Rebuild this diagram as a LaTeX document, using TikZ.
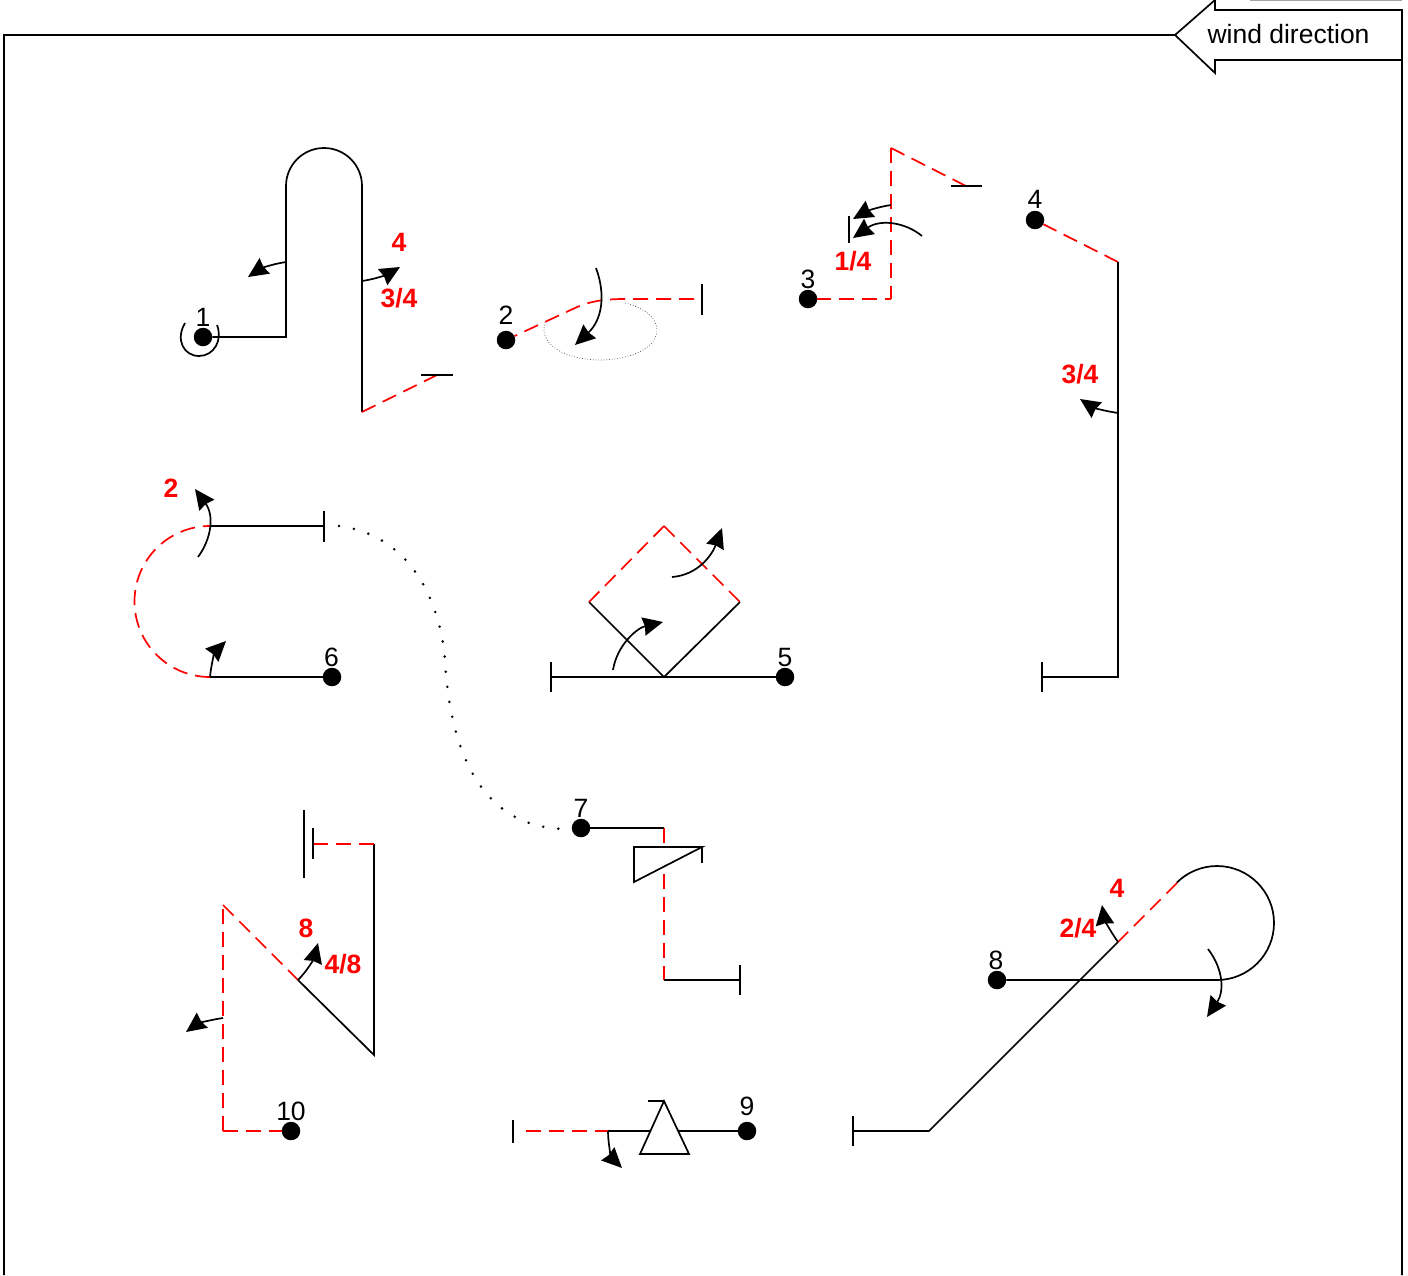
\documentclass[tikz,border=0pt]{standalone}
\usepackage{fontspec}
\setmainfont{Liberation Sans}
\usetikzlibrary{arrows.meta}
\tikzset{
  ln/.style={draw=black,line width=1.7pt,line join=miter},
  rd/.style={draw=red,line width=1.7pt,dash pattern=on 15pt off 8pt},
  arw/.style={draw=black,line width=1.7pt,-{Stealth[inset=1.5pt,length=20pt,width=18.5pt]}},
  dot/.style={circle,fill=black,inner sep=0pt,minimum size=18.5pt},
  num/.style={font=\fontsize{26.5pt}{28pt}\selectfont,text=black,inner sep=0pt},
  lab/.style={font=\fontsize{26.5pt}{28pt}\selectfont\bfseries,text=red,inner sep=0pt}
}
\begin{document}
\begin{tikzpicture}[x=1pt,y=-1pt]
\useasboundingbox (0,0) rectangle (1408,1275);
% frame + wind arrow
\draw[ln] (4,1275) -- (4,35) -- (1175,35) -- (1215,0) -- (1215,10) -- (1402,10) -- (1402,1275);
\draw[ln] (1402,60) -- (1215,60) -- (1215,73) -- (1175,35);
\draw[draw=black!35,line width=1.5pt] (1250,0.5) -- (1402,0.5);
\node[num] (wind) at (1288.5,34) {wind direction};
% dots
\node[dot] (d1) at (203,337) {};
\node[dot] (d2) at (506,340) {};
\node[dot] (d3) at (808,299) {};
\node[dot] (d4) at (1035,220) {};
\node[dot] (d5) at (785,677) {};
\node[dot] (d6) at (332,677) {};
\node[dot] (d7) at (581,828) {};
\node[dot] (d8) at (997,980) {};
\node[dot] (d9) at (747,1131) {};
\node[dot] (d10) at (291,1131) {};
\node[num] (n1) at (203,317) {1};
\node[num] (n2) at (506,315) {2};
\node[num] (n3) at (808,279) {3};
\node[num] (n4) at (1035,199.5) {4};
\node[num] (n5) at (785,657.5) {5};
\node[num] (n6) at (331.5,657.5) {6};
\node[num] (n7) at (581,808) {7};
\node[num] (n8) at (996,960) {8};
\node[num] (n9) at (747,1106) {9};
\node[num] (n10) at (291,1111) {10};
% 1
\draw[ln] (185,323) .. controls (175,340) and (184,356) .. (199,356) .. controls (214,356) and (223,340) .. (217,325);
\draw[ln] (d1) -- (286,337) -- (286,186) arc[start angle=180,end angle=360,radius=38] -- (362,412);
\draw[rd] (362,412) -- (437,375);
\draw[ln] (421,375) -- (453,375);
\draw[arw] (286,262) .. controls (272,264) and (260,269) .. (248,277);
\draw[arw] (362,281) .. controls (376,279) and (388,274) .. (400,267);
\node[lab] (l1) at (399,242) {4};
\node[lab] (l2) at (399,298) {3/4};
% 2
\draw[draw=black!70,line width=0.7pt,dotted] (625,303) .. controls (645,308) and (657,318) .. (657,330) .. controls (657,347) and (632,360) .. (600,360) .. controls (569,360) and (544,347) .. (544,330) -- (545,322);
\draw[rd,dash phase=15pt] (702,299) -- (625,299) .. controls (605,299) and (590,301) .. (575,308) -- (d2);
\draw[ln] (702,284) -- (702,315);
\draw[arw] (596,268) .. controls (606,295) and (602,320) .. (575,345);
% 3
\draw[rd] (891,148) -- (891,299);
\draw[rd,dash phase=9pt] (891,299) -- (d3);
\draw[rd] (891,148) -- (966,186);
\draw[ln] (951,186) -- (982,186);
\draw[ln] (849,216) -- (849,243);
\draw[arw] (891,205) .. controls (877,207) and (865,212) .. (853,219);
\draw[arw] (922,236) .. controls (905,222) and (880,219) .. (853,238);
\node[lab] (l3) at (853,261) {1/4};
% 4
\draw[rd] (1118,262) -- (d4);
\draw[ln] (1118,262) -- (1118,677) -- (1042,677);
\draw[ln] (1042,662) -- (1042,692);
\draw[arw] (1118,413) .. controls (1104,411) and (1092,407) .. (1080,399);
\node[lab] (l4) at (1080,374) {3/4};
% 5
\draw[ln] (d5) -- (551,677);
\draw[ln] (551,662) -- (551,692);
\draw[ln] (589,602) -- (664,677) -- (740,602);
\draw[rd] (664,526) -- (740,602);
\draw[rd] (664,526) -- (589,602);
\draw[arw] (613,670) .. controls (617,645) and (637,628) .. (663,622);
\draw[arw] (672,577) .. controls (698,575) and (712,555) .. (722,528);
% 6
\draw[ln] (d6) -- (210,677);
\draw[rd] (210,677) arc[start angle=90,end angle=270,radius=75.5];
\draw[ln] (210,526) -- (324,526);
\draw[ln] (324,511) -- (324,542);
\draw[arw] (210,677) .. controls (211,665) and (215,652) .. (226,641);
\draw[arw] (198,557) .. controls (212,538) and (214,515) .. (195,489);
\node[lab] (l5) at (171,488) {2};
% dotted route
\draw[black,line width=2.8pt,line cap=round,dash pattern=on 0pt off 15.2pt] (339,526) .. controls (410,535) and (440,600) .. (445,660) .. controls (450,750) and (480,828) .. (566,829);
% 7
\draw[rd] (664,828) -- (664,980);
\draw[ln] (d7) -- (664,828);
\draw[ln,fill=white] (634,847) -- (702,847) -- (634,882) -- cycle;
\draw[ln] (702,847) -- (702,863);
\draw[ln] (664,980) -- (740,980);
\draw[ln] (740,965) -- (740,995);
% 8
\draw[ln] (d8) -- (1217,980) arc[start angle=90,end angle=-135,radius=57];
\draw[rd] (1177,883) -- (1118,942);
\draw[ln] (1118,942) -- (929,1131) -- (853,1131);
\draw[ln] (853,1116) -- (853,1146);
\draw[arw] (1118,942) .. controls (1110,931) and (1104,918) .. (1102,905);
\draw[arw] (1208,949) .. controls (1224,970) and (1224,992) .. (1207,1017);
\node[lab] (l6) at (1117,888) {4};
\node[lab] (l7) at (1078,928) {2/4};
% 9
\draw[ln] (d9) -- (608,1131);
\draw[rd,dash phase=2pt] (608,1131) -- (525,1131);
\draw[ln] (513,1120) -- (513,1143);
\draw[ln,fill=white] (664,1101) -- (689,1154) -- (640,1154) -- cycle;
\draw[ln] (648,1101) -- (664,1101);
\draw[arw] (608,1131) .. controls (608,1145) and (612,1158) .. (622,1168);
% 10
\draw[rd] (223,1131) -- (d10);
\draw[rd] (223,1131) -- (223,905);
\draw[rd] (223,905) -- (298,980);
\draw[ln] (298,980) -- (374,1055) -- (374,844);
\draw[rd] (374,844) -- (313,844);
\draw[ln] (313,828) -- (313,859);
\draw[ln] (304,810) -- (304,878);
\draw[arw] (223,1018) .. controls (209,1020) and (197,1024) .. (186,1032);
\draw[arw] (298,980) .. controls (308,970) and (314,958) .. (318,943);
\node[lab] (l8) at (306,928) {8};
\node[lab] (l9) at (343,964) {4/8};
\end{tikzpicture}
\end{document}
